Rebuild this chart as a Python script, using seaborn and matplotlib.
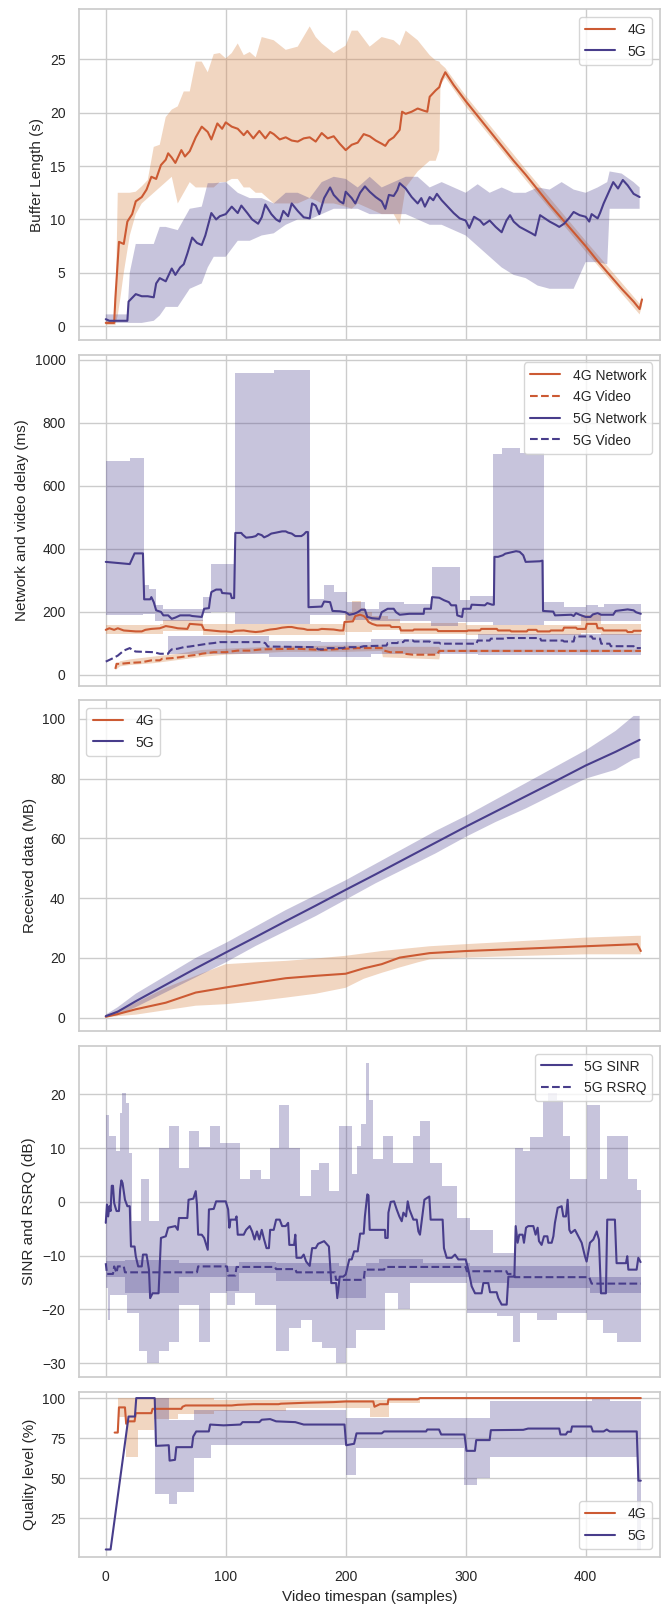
import numpy as np
import matplotlib
matplotlib.use("Agg")
import matplotlib.pyplot as plt
import seaborn as sns

# ---------------- panel 1 : buffer length (s) ----------------
buf_4g_x = [0, 7, 8, 11, 15, 18, 22, 25, 30, 34, 38, 42, 46, 50, 52, 55, 58, 63, 66, 70,
            75, 80, 85, 88, 93, 97, 100, 105, 110, 115, 118, 123, 128, 133, 137, 140, 145, 150, 155, 160,
            165, 170, 175, 180, 185, 190, 195, 200, 205, 210, 215, 220, 225, 230, 233, 236, 240, 245, 247, 250,
            255, 260, 265, 268, 270, 275, 278, 280, 283, 290, 300, 310, 320, 330, 340, 350, 360, 370, 380, 390,
            400, 410, 420, 430, 440, 445, 447]
buf_4g = [0.3, 0.3, 2.6, 7.9, 7.7, 9.8, 10.5, 11.7, 12.1, 12.8, 14.0, 13.8, 15.1, 15.6, 16.2, 15.8, 15.3, 16.5, 15.9, 16.4,
          17.7, 18.7, 18.2, 17.5, 19.0, 18.5, 19.1, 18.7, 18.5, 17.9, 18.3, 17.6, 18.3, 17.6, 18.2, 18.0, 17.5, 17.7, 17.4, 17.3,
          17.6, 17.7, 17.3, 18.1, 17.6, 17.8, 17.1, 16.5, 17.0, 17.2, 18.0, 17.8, 17.4, 17.1, 16.9, 17.4, 17.7, 18.4, 20.1, 19.9,
          20.1, 20.4, 20.2, 20.1, 21.5, 22.1, 22.4, 23.1, 23.8, 22.6, 21.1, 19.7, 18.3, 16.9, 15.5, 14.2, 12.8, 11.4, 10.1, 8.8,
          7.5, 6.1, 4.8, 3.5, 2.3, 1.6, 2.5]
buf_4g_bx = [0, 8, 10, 12, 15, 20, 25, 30, 35, 40, 45, 50, 55, 60, 65, 70, 75, 80, 85, 90,
             95, 100, 105, 110, 115, 120, 125, 130, 140, 150, 160, 170, 175, 180, 190, 200, 205, 210, 220, 230,
             240, 245, 250, 260, 270, 275, 278, 279, 283, 300, 350, 400, 445, 447]
buf_4g_hi = [0.5, 0.6, 12.5, 12.5, 12.5, 12.5, 12.6, 13.1, 13.7, 16.8, 17.0, 19.6, 20.3, 20.6, 22.0, 22.0, 24.8, 24.8, 23.8, 25.5,
             25.6, 25.1, 25.6, 26.5, 25.4, 25.7, 25.2, 27.1, 26.8, 25.9, 26.2, 28.1, 27.1, 26.5, 25.6, 26.3, 27.7, 27.7, 26.2, 27.1,
             26.8, 26.3, 27.7, 26.8, 25.4, 24.9, 24.8, 24.6, 24.2, 21.6, 14.7, 8.0, 2.1, 2.9]
buf_4g_lo = [0.1, 0.1, 1.0, 2.5, 5.0, 8.5, 10.5, 11.5, 12.0, 12.5, 13.0, 13.5, 14.0, 11.5, 12.5, 13.5, 13.0, 13.0, 13.0, 13.0,
             13.5, 13.5, 13.8, 13.8, 13.0, 13.0, 12.5, 12.5, 11.5, 11.5, 11.5, 12.0, 11.8, 11.5, 11.5, 11.2, 11.0, 11.5, 11.0, 10.5,
             10.5, 9.5, 13.0, 14.5, 15.5, 15.5, 16.5, 22.6, 23.3, 20.6, 13.7, 7.0, 1.1, 1.9]

buf_5g_x = [0, 3, 18, 19, 25, 30, 35, 40, 42, 45, 50, 55, 58, 62, 65, 68, 72, 76, 80, 83,
            88, 92, 95, 100, 105, 110, 113, 118, 122, 127, 130, 133, 138, 142, 145, 148, 152, 155, 160, 165,
            170, 172, 175, 178, 182, 187, 190, 195, 198, 200, 205, 208, 212, 216, 220, 225, 230, 233, 236, 240,
            243, 245, 250, 255, 260, 263, 266, 270, 273, 276, 280, 285, 290, 295, 300, 303, 307, 312, 315, 320,
            325, 330, 334, 337, 340, 345, 350, 355, 358, 362, 366, 370, 375, 378, 382, 386, 390, 395, 400, 403,
            405, 410, 412, 415, 420, 423, 427, 431, 435, 440, 445]
buf_5g = [0.65, 0.5, 0.5, 2.3, 3.0, 2.8, 2.8, 2.7, 4.0, 4.5, 4.2, 5.4, 4.8, 5.5, 5.8, 6.8, 8.3, 7.8, 7.6, 8.5,
          10.6, 10.0, 10.3, 10.5, 11.2, 10.6, 11.3, 10.6, 10.0, 9.6, 10.2, 11.4, 10.5, 10.0, 9.8, 10.8, 10.3, 11.5, 10.8, 10.2,
          10.1, 11.5, 11.3, 10.5, 12.0, 13.0, 12.3, 11.7, 11.5, 12.6, 12.0, 11.5, 12.5, 13.1, 12.6, 12.1, 11.7, 11.0, 12.3, 12.2,
          12.75, 13.4, 12.9, 12.1, 11.5, 12.0, 11.2, 12.1, 11.8, 12.4, 11.8, 11.2, 10.6, 10.1, 9.9, 9.2, 10.25, 9.9, 9.5, 9.9,
          9.3, 8.8, 9.9, 10.4, 9.8, 9.3, 9.0, 8.7, 8.5, 10.4, 10.1, 9.8, 9.5, 9.3, 9.6, 10.1, 10.7, 10.4, 10.25, 9.8,
          10.5, 10.1, 10.6, 11.5, 12.75, 13.5, 12.9, 13.7, 13.2, 12.4, 12.1]
buf_5g_bx = [0, 18, 20, 25, 30, 40, 45, 50, 60, 70, 80, 85, 90, 100, 110, 120, 130, 140, 150, 160,
             170, 180, 190, 200, 210, 220, 230, 240, 250, 260, 270, 280, 290, 300, 310, 320, 330, 340, 350, 360,
             370, 380, 390, 400, 410, 418, 420, 430, 440, 445]
buf_5g_hi = [1.1, 1.1, 5.0, 7.7, 7.7, 7.7, 9.3, 9.3, 9.0, 11.0, 11.2, 13.4, 13.4, 13.5, 12.5, 12.0, 12.0, 11.5, 12.5, 12.5,
             12.0, 13.5, 14.0, 13.8, 13.0, 14.0, 13.0, 13.5, 14.0, 14.0, 13.0, 13.5, 13.0, 12.5, 13.3, 12.5, 13.0, 12.5, 12.5, 13.0,
             12.8, 13.5, 12.8, 12.5, 13.0, 13.5, 14.5, 14.3, 13.5, 13.0]
buf_5g_lo = [0.3, 0.3, 0.3, 0.3, 0.3, 0.5, 1.0, 1.8, 1.8, 3.5, 4.0, 5.5, 6.5, 6.5, 8.0, 8.0, 8.5, 8.7, 9.5, 10.0,
             10.0, 10.5, 11.0, 11.0, 11.0, 10.5, 10.5, 10.5, 10.5, 10.0, 9.5, 9.5, 9.0, 8.5, 7.5, 6.5, 5.5, 4.8, 4.5, 3.8,
             3.5, 3.5, 3.5, 6.0, 6.0, 5.8, 11.0, 11.0, 11.0, 11.0]

# ---------------- panel 2 : network / video delay (ms) ----------------
net_5g_x = [0, 20, 22, 24, 31, 32, 37, 38, 40, 42, 46, 48, 52, 55, 58, 62, 70, 72, 80, 82,
            86, 87, 88, 92, 96, 97, 104, 105, 107, 108, 113, 114, 117, 122, 125, 127, 130, 132, 135, 138,
            142, 147, 150, 152, 155, 158, 163, 165, 167, 168.5, 169, 180, 182, 187, 189, 195, 200, 203, 207, 210,
            213, 216, 218, 222, 228, 230, 235, 240, 242, 245, 253, 265, 265.5, 271, 272, 278, 282, 286, 288, 292,
            293, 297, 298, 304, 305, 316, 318, 322, 323.5, 324, 327, 331, 333, 342, 345, 348, 350, 362, 364, 364.5,
            373, 374.5, 388, 390, 392, 395, 400, 404, 406, 410, 413, 423, 425, 435, 440, 442, 446]
net_5g = [358, 351, 368, 385, 385, 239, 239, 246, 230, 204, 199, 188, 188, 177, 181, 188, 188, 186, 183, 209,
          211, 241, 262, 270, 270, 259, 257, 243, 243, 450, 450, 445, 435, 437, 440, 447, 443, 436, 441, 448,
          451, 455, 455, 451, 448, 440, 440, 445, 453, 453, 214, 216, 232, 230, 202, 201, 198, 190, 193, 198,
          206, 206, 183, 179, 177, 198, 209, 209, 198, 190, 193, 193, 209, 209, 246, 244, 236, 230, 220, 220,
          188, 183, 209, 209, 222, 220, 227, 222, 222, 374, 374, 379, 384, 392, 390, 379, 358, 360, 362, 202,
          200, 188, 190, 186, 195, 190, 183, 183, 191, 195, 190, 190, 202, 207, 204, 198, 193]
net_5g_hi_x = [0, 20, 32, 36, 42, 48, 81, 88, 108, 140, 170, 182, 190, 201, 216, 228, 249, 272, 295, 304,
               323, 330, 345, 365, 382, 400, 410, 415, 446]
net_5g_hi = [678, 687, 283, 271, 220, 209, 245, 352, 957, 968, 241, 285, 262, 230, 209, 230, 225, 342, 236, 250,
             700, 720, 705, 230, 215, 222, 215, 225, 225]
net_5g_lo_x = [0, 31, 41, 81, 88, 108, 170, 200, 221, 271, 294, 323, 365, 446]
net_5g_lo = [188, 193, 170, 195, 198, 161, 190, 172, 170, 155, 167, 158, 170, 170]

net_4g_x = [0, 3, 7, 10, 15, 25, 30, 33, 38, 45, 48, 50, 55, 60, 68, 70, 80, 82, 88, 96,
            100, 105, 108, 115, 120, 125, 130, 133, 137, 142, 147, 152, 155, 160, 165, 168, 177, 180, 190, 195,
            198, 199, 206, 208, 212, 215, 217, 219, 222, 226, 237, 238, 245, 246, 256, 257, 276, 277, 301, 302,
            312, 313, 326, 327, 337, 338, 351, 352, 359, 360, 370, 371, 381, 382, 392, 393, 400, 401, 409, 410,
            414, 415, 434, 435, 439, 440, 446]
net_4g = [142, 147, 142, 147, 140, 137, 137, 142, 145, 147, 151, 154, 151, 147, 145, 161, 158, 142, 140, 137,
          137, 135, 139, 140, 137, 135, 137, 140, 143, 145, 149, 151, 151, 147, 145, 142, 142, 145, 143, 140,
          140, 167, 169, 186, 190, 186, 179, 167, 161, 156, 156, 151, 151, 140, 140, 143, 143, 138, 138, 140,
          140, 145, 145, 140, 140, 137, 137, 142, 142, 137, 137, 140, 140, 149, 149, 145, 145, 161, 161, 147,
          147, 140, 140, 135, 135, 139, 139]
net_4g_hi_x = [0, 45, 48, 81, 199, 205, 213, 216, 222, 235, 245, 300, 396, 413, 446]
net_4g_hi = [158, 160, 172, 160, 200, 235, 210, 200, 185, 175, 165, 158, 190, 160, 155]
net_4g_lo_x = [0, 45, 48, 81, 199, 222, 245, 300, 396, 413, 446]
net_4g_lo = [128, 130, 138, 127, 135, 140, 130, 125, 132, 125, 125]

vid_4g_x = [8, 9, 12, 20, 30, 38, 45, 47, 55, 62, 70, 77, 80, 90, 100, 110, 120, 130, 160, 170,
            180, 190, 200, 210, 231, 232, 237, 248, 249, 256, 276, 278, 446]
vid_4g = [18, 34, 34, 37, 39, 45, 45, 50, 52, 55, 60, 63, 66, 71, 71, 76, 76, 80, 82, 80,
          78, 80, 82, 84, 84, 76, 71, 71, 66, 63, 63, 75, 75]
vid_4g_bx = [8, 12, 20, 40, 60, 80, 100, 150, 200, 230, 231, 278, 279, 446]
vid_4g_hi = [22, 42, 48, 57, 66, 78, 82, 90, 92, 92, 88, 88, 79, 79]
vid_4g_lo = [14, 26, 30, 36, 46, 56, 63, 72, 72, 75, 55, 48, 71, 71]

vid_5g_x = [0, 5, 10, 15, 20, 23, 25, 40, 45, 52, 53, 55, 60, 65, 70, 75, 85, 90, 95, 130,
            133, 135, 175, 177, 183, 185, 198, 200, 212, 215, 234, 235, 243, 244, 248, 249, 256, 257, 270, 271,
            278, 279, 309, 310, 320, 321, 334, 335, 362, 363, 381, 382, 390, 391, 405, 406, 412, 413, 420, 421,
            440, 441, 446]
vid_5g = [41, 50, 60, 76, 84, 76, 73, 71, 66, 66, 73, 80, 82, 87, 89, 92, 98, 100, 103, 103,
          100, 89, 87, 80, 80, 84, 84, 87, 87, 90, 92, 100, 100, 103, 103, 108, 108, 105, 105, 101,
          101, 98, 98, 108, 108, 114, 114, 116, 116, 108, 108, 105, 105, 121, 121, 114, 114, 98, 98, 90,
          90, 84, 84]
vid_5g_hi_x = [52, 136, 179, 221, 310, 446]
vid_5g_hi = [122, 108, 103, 114, 130, 130]
vid_5g_lo_x = [52, 136, 221, 310, 446]
vid_5g_lo = [66, 55, 66, 62, 62]

# ---------------- panel 3 : received data (MB) ----------------
recv_5g_x = [0, 10, 25, 50, 75, 100, 125, 150, 175, 200, 225, 250, 275, 300, 325, 350, 375, 400, 425, 440, 445]
recv_5g = [0.5, 2.0, 5.5, 11.0, 16.5, 21.8, 27.0, 32.3, 37.5, 42.8, 48.0, 53.3, 58.6, 63.9, 69.0, 74.1, 79.2, 84.4, 89.0, 92.0, 93.0]
recv_5g_hi = [1.0, 3.5, 8.0, 14.0, 20.0, 25.0, 30.5, 36.0, 41.0, 46.0, 51.5, 57.0, 62.5, 67.5, 73.0, 78.5, 84.0, 89.5, 96.0, 101.0, 101.0]
recv_5g_lo = [0.2, 0.8, 3.5, 8.5, 13.5, 18.5, 24.0, 29.0, 34.0, 39.5, 45.0, 50.0, 55.0, 60.5, 65.5, 70.0, 75.0, 80.0, 83.0, 86.5, 87.0]
recv_4g_x = [0, 10, 25, 50, 75, 100, 125, 150, 175, 200, 215, 230, 245, 260, 270, 300, 350, 400, 443, 446]
recv_4g = [0.3, 1.2, 2.8, 5.0, 8.4, 10.1, 11.7, 13.2, 14.0, 14.7, 16.5, 17.9, 20.1, 21.0, 21.6, 22.3, 23.1, 23.9, 24.6, 22.3]
recv_4g_hi = [0.6, 2.5, 5.0, 10.0, 14.0, 17.9, 18.5, 19.0, 19.8, 20.7, 21.5, 22.3, 22.9, 23.5, 23.9, 24.6, 25.7, 26.8, 27.4, 27.4]
recv_4g_lo = [0.0, 0.5, 1.0, 2.5, 4.0, 4.5, 5.5, 6.7, 8.0, 10.0, 13.0, 15.0, 16.8, 18.5, 19.5, 20.1, 20.7, 21.2, 21.2, 21.2]

# ---------------- panel 4 : SINR / RSRQ (dB) ----------------
sinr_x = [0, 1, 2, 3, 4, 5, 6, 7, 8, 9, 11, 12, 13, 14, 16, 18, 20, 21, 24, 25,
          27, 30, 31, 34, 36, 37, 39, 44, 46, 50, 52, 58, 60, 61, 68, 69, 73, 75, 76, 77,
          80, 82, 85, 86, 90, 92, 100, 102, 103, 104, 108, 109, 110, 115, 117, 120, 122, 124, 126, 128,
          130, 132, 134, 136, 137, 140, 142, 145, 147, 150, 152, 153, 157, 158, 159, 163, 165, 167, 170, 172,
          175, 177, 182, 186, 188, 192, 193, 195, 198, 200, 203, 205, 207, 210, 212, 215, 216, 218, 219, 220,
          232.8, 233, 235, 235.6, 237.5, 240.3, 242.5, 244.7, 246.7, 248.1, 250.3, 251.7, 253.1, 256.4, 259.2, 260.6, 261.9, 263.3, 265.6, 267.5,
          269.7, 270.8, 280.8, 281.9, 284.2, 288.3, 291.1, 293.9, 300, 302.2, 305, 307.8, 313.3, 314.7, 318.9, 320.3, 325.8, 327.2, 330, 334.2,
          335.6, 340.6, 341.7, 343.3, 344.7, 347.5, 348.6, 350.3, 352.2, 356.4, 358.3, 360, 361.1, 363.3, 365.3, 368.1, 368.9, 371.7, 373.1, 374.4,
          376.7, 380, 381.4, 383.6, 385, 386.4, 387.8, 391.1, 393.9, 396.7, 399.4, 400.8, 403.6, 406.4, 409.2, 411.1, 412.8, 416.9, 418, 424.4,
          425.8, 433.6, 434.7, 435.6, 442.5, 443.9, 445.8]
sinr = [-3.9, -0.5, -2.7, -0.8, -1.7, 3.0, 3.0, -0.2, -1.0, -1.7, -1.7, 2.3, 4.0, 3.5, 0.4, -0.8, -0.8, -8.3, -8.3, -10.1,
        -12.0, -12.0, -9.8, -9.8, -12.6, -17.9, -17.0, -17.0, -6.7, -6.4, -4.8, -4.5, -5.2, -3.0, -3.0, 0.4, 0.6, 2.0, -0.5, -6.1,
        -6.1, -6.7, -8.9, -1.4, -1.3, 0.1, 0.1, -1.4, -4.8, -3.3, -3.3, -2.7, -6.1, -6.1, -5.2, -4.5, -5.5, -7.0, -5.5, -7.0,
        -5.2, -7.0, -8.6, -8.6, -5.2, -5.2, -3.3, -3.3, -4.5, -4.5, -3.9, -8.0, -8.0, -6.1, -10.4, -10.4, -9.8, -11.1, -11.9, -8.6,
        -8.6, -7.8, -7.3, -8.3, -15.1, -15.1, -17.9, -13.9, -13.9, -13.5, -10.7, -10.7, -9.2, -9.2, -5.9, -5.9, -2.7, 1.4, 1.2, -5.2,
        -5.2, -6.7, -6.7, -2.0, 0.0, 0.1, -1.4, -2.7, -3.6, -2.0, -2.7, 0.1, -1.4, -3.3, -3.3, -5.5, -6.1, -3.6, 0.4, 0.7,
        1.0, -3.3, -3.3, -8.6, -10.4, -10.4, -9.8, -10.7, -10.7, -12.6, -15.7, -17.0, -17.0, -15.1, -15.1, -16.8, -16.8, -17.9, -19.1, -19.1,
        -13.9, -13.9, -4.5, -7.6, -6.1, -6.1, -7.6, -4.8, -4.5, -4.5, -6.1, -4.8, -7.3, -8.0, -6.4, -6.4, -7.6, -7.6, -6.4, -3.9,
        -1.1, -0.8, -2.7, -2.7, 0.4, -5.2, -5.8, -5.2, -6.4, -7.6, -10.1, -11.1, -7.6, -7.0, -5.5, -7.0, -17.0, -17.0, -3.3, -3.3,
        -11.4, -11.4, -10.1, -12.6, -12.6, -10.4, -11.2]
sinr_hi_x = [0, 3, 8.4, 11.7, 13.9, 16.7, 19, 21.7, 29, 35.7, 44, 52.4, 60.7, 69, 77.4, 86.6, 95.5, 112, 120.6, 129,
             137, 144, 152.6, 162, 170.8, 177.7, 186, 194.4, 205.6, 209.7, 212.5, 216.7, 219.5, 223, 231.4, 239.7, 256, 262, 270.3, 280,
             292.5, 303.6, 323, 341, 348, 353.6, 364.7, 368.9, 375.8, 381.4, 387, 400.8, 412, 417.5, 435.6, 442.5, 446]
sinr_hi = [16.1, 12.2, 9.4, 16.6, 20.3, 18.4, 9.1, -3.6, 4.2, -3.6, 10.0, 14.1, 6.3, 13.2, 10.2, 14.1, 11.0, 4.2, 6.0, 4.2,
           10.0, 18.1, 10.0, 1.1, 6.0, 7.3, 2.0, 14.1, 5.1, 10.4, 14.4, 25.9, 19.0, 7.9, 12.2, 7.3, 12.2, 15.0, 7.3, 2.9,
           -3.0, -5.2, -9.5, 10.0, 9.4, 12.0, 18.8, 20.3, 19.0, 12.2, 4.2, 18.1, 4.2, 12.2, 4.2, 2.3, 2.3]
sinr_lo_x = [0, 2.2, 3.6, 17.5, 27.3, 34.3, 44, 52.4, 60.7, 77.4, 87.2, 101, 108, 124.8, 141.5, 152.6, 162.4, 172, 180.5, 191.6,
             200, 208.4, 232.8, 243.9, 253.6, 300.8, 325.8, 339.7, 345.3, 359.2, 375.8, 400.8, 414.7, 425.8, 446]
sinr_lo = [-16.0, -21.9, -17.3, -20.7, -27.8, -30.0, -27.8, -26.0, -19.1, -26.0, -17.0, -19.1, -17.0, -19.1, -27.8, -23.5, -22.0, -26.0, -27.2, -30.0,
           -27.2, -23.8, -17.0, -20.0, -15.1, -20.7, -21.3, -26.0, -20.7, -22.0, -20.7, -22.0, -24.4, -26.0, -26.0]

rsrq_x = [0, 1, 6, 7, 9, 10, 15, 16, 76, 77, 101, 102, 108, 109, 141, 142, 158, 159, 191, 192,
          215, 216, 232, 233, 300, 301, 334, 335, 340, 341, 403, 405, 446]
rsrq = [-11.4, -13.4, -13.4, -12.0, -13.2, -12.0, -12.0, -13.1, -13.1, -12.0, -12.0, -13.7, -13.7, -12.1, -12.1, -12.5, -12.5, -13.1, -13.1, -14.5,
        -14.5, -12.6, -12.6, -12.1, -12.1, -12.9, -12.9, -13.4, -13.4, -14.0, -14.0, -15.2, -15.2]
rsrq_hi_x = [0, 16, 60.7, 100, 111, 141.5, 194.4, 216.7, 228, 264.7, 303.6, 403.6, 446]
rsrq_hi = [-11.0, -10.9, -11.4, -12.0, -11.1, -11.4, -12.0, -11.4, -10.7, -11.4, -12.0, -13.9, -13.9]
rsrq_lo_x = [0, 16, 60.7, 100, 111, 141.5, 194.4, 216.7, 303.6, 334.2, 403.6, 446]
rsrq_lo = [-14.0, -17.0, -13.9, -16.5, -13.3, -14.8, -17.9, -13.9, -15.1, -16.0, -17.0, -17.0]

# ---------------- panel 5 : quality level (%) ----------------
qual_4g_x = [7.4, 10, 11, 16, 17, 19, 24, 25, 38, 39, 63, 64, 66.5, 105, 110, 123, 144, 146, 167, 190,
             200, 223, 224, 228.5, 235, 235.6, 260, 262, 446]
qual_4g = [78.5, 78.5, 94.2, 94.2, 84, 85.5, 85.5, 90.6, 90.6, 93.3, 93.3, 94.6, 95.4, 95.4, 95.8, 96.2, 96.2, 96.5, 97.1, 97.5,
           97.9, 97.9, 94.6, 96.2, 96.2, 99.2, 99.2, 100, 100]
qual_4g_hi_x = [7.4, 10, 90, 150, 236, 446]
qual_4g_hi = [78.5, 100, 98.5, 99, 100, 100]
qual_4g_lo_x = [7.4, 10, 17, 27, 40, 60, 90, 150, 220, 236, 262, 446]
qual_4g_lo = [78.5, 88, 63.5, 80, 87, 90, 92, 94, 88.5, 97, 100, 100]

qual_5g_x = [0, 4, 19, 24.3, 25.4, 40.8, 41.9, 52.5, 53.2, 57.7, 58.8, 71.8, 72.9, 75.4, 85.9, 87, 98.2, 112.3, 114, 128,
             130, 137, 142, 158, 165, 199, 200.4, 207, 209, 230, 232, 267, 268, 277.8, 279.6, 299, 300.7, 307.7, 308.8, 320,
             321, 348, 352, 378, 379, 383.5, 385, 387.7, 388.7, 404.6, 406, 415, 417.6, 420, 442.6, 444, 446]
qual_5g = [5.6, 5.6, 88.5, 88.5, 100, 100, 70.2, 70.6, 61, 61.5, 69.4, 69.4, 76, 79.2, 79.2, 83.5, 83, 83.5, 85, 85,
           86.5, 86.9, 85.5, 85, 83.5, 83.5, 70.6, 71.5, 78, 78, 79.2, 79.2, 80.4, 80.4, 77.3, 77.3, 67.1, 67.1, 73.8, 73.8,
           80, 80.2, 81, 81, 77.3, 77.3, 79, 79, 82.3, 82.3, 79.2, 79.2, 80.4, 79.2, 79.2, 48.5, 48.5]
qual_5g_hi_x = [26, 41, 52.5, 73.6, 200, 299, 320, 405, 420, 446]
qual_5g_hi = [100, 100, 86.5, 92.7, 87.5, 87.5, 98, 100, 98, 98]
qual_5g_lo_x = [26, 41, 52.5, 59, 73.6, 87.7, 200, 209, 299, 309.5, 320, 443, 446]
qual_5g_lo = [100, 40, 34, 41.7, 62.5, 70.8, 52, 68.75, 45.8, 50, 63.5, 5, 5]

# ---------------- style ----------------
sns.set_theme(style="whitegrid")
plt.rcParams['font.family'] = ['Liberation Sans', 'DejaVu Sans']

C4 = '#cc5a33'
C4F = '#d98a4e'
C5 = '#483d8b'
LW = 1.5


def stepify(xs, ys):
    xs = np.asarray(xs, float)
    ys = np.asarray(ys, float)
    return np.repeat(xs, 2)[1:], np.repeat(ys, 2)[:-1]


def band(ax, ux, uy, lx, ly, color, alpha=0.3, step=False):
    if step:
        ux, uy = stepify(ux, uy)
        lx, ly = stepify(lx, ly)
    ux, uy, lx, ly = map(np.asarray, (ux, uy, lx, ly))
    ax.fill(np.r_[ux, lx[::-1]], np.r_[uy, ly[::-1]], color=color, alpha=alpha, lw=0)


def line(ax, x, y, color, label, ls='-'):
    sns.lineplot(x=x, y=y, ax=ax, color=color, lw=LW, ls=ls, label=label,
                 estimator=None, sort=False)


fig = plt.figure(figsize=(6.62, 16.05), dpi=100)
gs = fig.add_gridspec(5, 1, height_ratios=[2, 2, 2, 2, 1], left=0.119, right=0.997,
                      top=0.9942, bottom=0.030, hspace=0.05)
axes = [fig.add_subplot(gs[0])]
for i in range(1, 5):
    axes.append(fig.add_subplot(gs[i], sharex=axes[0]))

# panel 1
ax = axes[0]
band(ax, buf_4g_bx, buf_4g_hi, buf_4g_bx, buf_4g_lo, C4F, 0.35)
band(ax, buf_5g_bx, buf_5g_hi, buf_5g_bx, buf_5g_lo, C5, 0.3)
line(ax, buf_4g_x, buf_4g, C4, '4G')
line(ax, buf_5g_x, buf_5g, C5, '5G')
ax.set_ylim(-1.3, 29.7)
ax.set_yticks([0, 5, 10, 15, 20, 25])
ax.set_ylabel('Buffer Length (s)')
ax.legend(loc='upper right')

# panel 2
ax = axes[1]
band(ax, net_4g_hi_x, net_4g_hi, net_4g_lo_x, net_4g_lo, C4F, 0.35, step=True)
band(ax, vid_4g_bx, vid_4g_hi, vid_4g_bx, vid_4g_lo, C4F, 0.35)
band(ax, net_5g_hi_x, net_5g_hi, net_5g_lo_x, net_5g_lo, C5, 0.3, step=True)
band(ax, vid_5g_hi_x, vid_5g_hi, vid_5g_lo_x, vid_5g_lo, C5, 0.3, step=True)
line(ax, net_4g_x, net_4g, C4, '4G Network')
line(ax, vid_4g_x, vid_4g, C4, '4G Video', ls='--')
line(ax, net_5g_x, net_5g, C5, '5G Network')
line(ax, vid_5g_x, vid_5g, C5, '5G Video', ls='--')
ax.set_ylim(-35, 1016)
ax.set_yticks([0, 200, 400, 600, 800, 1000])
ax.set_ylabel('Network and video delay (ms)')
ax.legend(loc='upper right')

# panel 3
ax = axes[2]
band(ax, recv_4g_x, recv_4g_hi, recv_4g_x, recv_4g_lo, C4F, 0.35)
band(ax, recv_5g_x, recv_5g_hi, recv_5g_x, recv_5g_lo, C5, 0.3)
line(ax, recv_4g_x, recv_4g, C4, '4G')
line(ax, recv_5g_x, recv_5g, C5, '5G')
ax.set_ylim(-4.5, 106.2)
ax.set_yticks([0, 20, 40, 60, 80, 100])
ax.set_ylabel('Received data (MB)')
ax.legend(loc='upper left')

# panel 4
ax = axes[3]
band(ax, sinr_hi_x, sinr_hi, sinr_lo_x, sinr_lo, C5, 0.3, step=True)
band(ax, rsrq_hi_x, rsrq_hi, rsrq_lo_x, rsrq_lo, C5, 0.3, step=True)
line(ax, sinr_x, sinr, C5, '5G SINR')
line(ax, rsrq_x, rsrq, C5, '5G RSRQ', ls='--')
ax.set_ylim(-32.5, 29)
ax.set_yticks([-30, -20, -10, 0, 10, 20])
ax.set_ylabel('SINR and RSRQ (dB)')
ax.legend(loc='upper right')

# panel 5
ax = axes[4]
band(ax, qual_4g_hi_x, qual_4g_hi, qual_4g_lo_x, qual_4g_lo, C4F, 0.35, step=True)
band(ax, qual_5g_hi_x, qual_5g_hi, qual_5g_lo_x, qual_5g_lo, C5, 0.3, step=True)
line(ax, qual_4g_x, qual_4g, C4, '4G')
line(ax, qual_5g_x, qual_5g, C5, '5G')
ax.set_ylim(1.0, 104.1)
ax.set_yticks([25, 50, 75, 100])
ax.set_ylabel('Quality level (%)')
ax.set_xlabel('Video timespan (samples)')
ax.legend(loc='lower right')

for ax in axes:
    ax.set_xlim(-22.5, 462)
    ax.set_xticks([0, 100, 200, 300, 400])
    ax.tick_params(labelsize=10)
    ax.yaxis.label.set_size(11)
    ax.xaxis.label.set_size(11)
    for t in ax.get_legend().get_texts():
        t.set_fontsize(10)
for ax in axes[:-1]:
    ax.tick_params(labelbottom=False)
    ax.set_xlabel('')

fig.savefig('out.png', dpi=100)
